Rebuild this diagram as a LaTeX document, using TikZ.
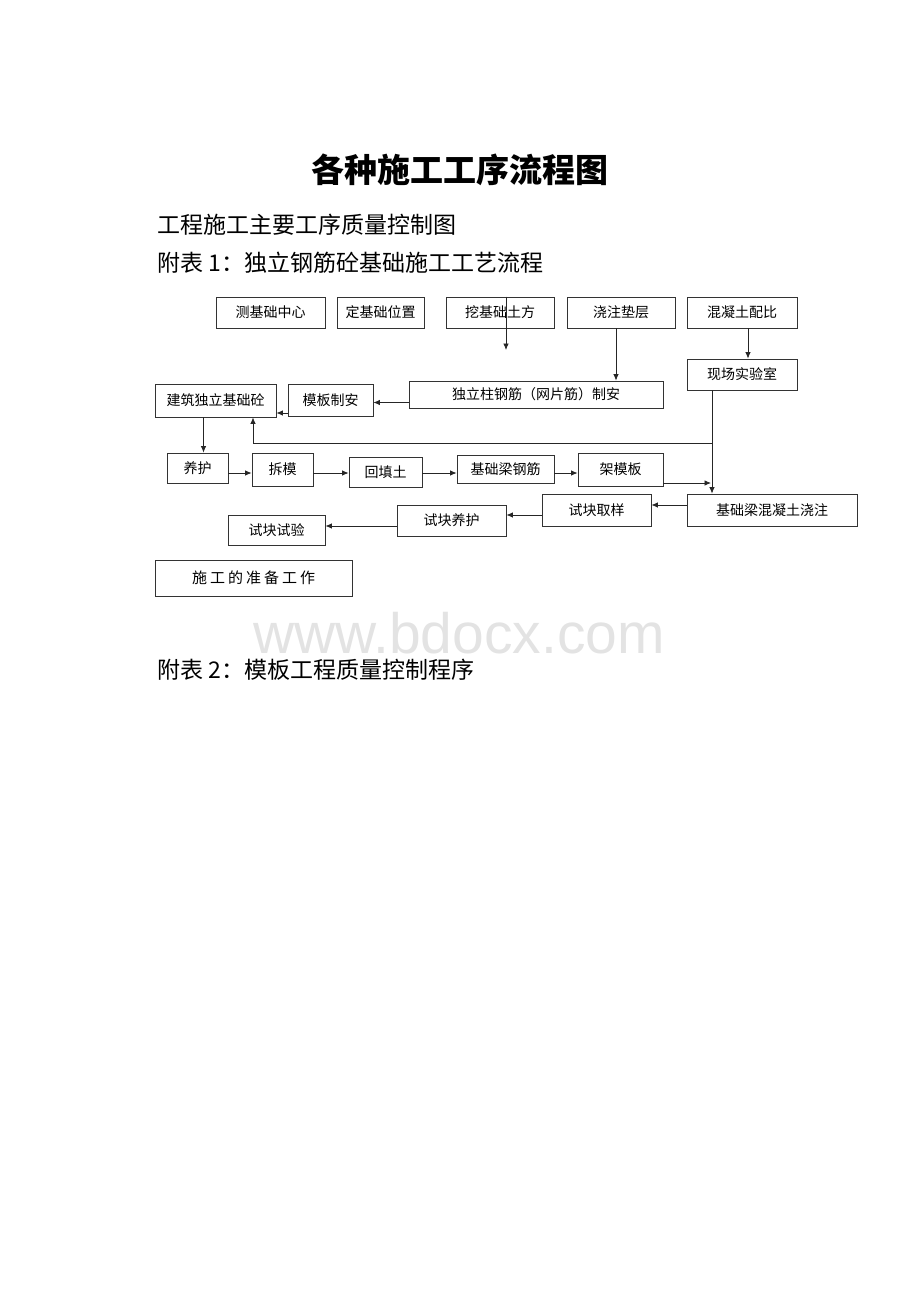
\documentclass[tikz,border=0pt]{standalone}
\usepackage{fontspec}
\setmainfont{Liberation Serif}
\newfontfamily\cjk{Noto Sans CJK SC}
\newfontfamily\wmfont{Liberation Sans}
\usetikzlibrary{arrows.meta}

\tikzset{
  box/.style={draw=black!80, line width=0.8pt, inner sep=0pt, font=\cjk\fontsize{14}{14}\selectfont},
  flow/.style={-{Latex[length=6.5pt,width=5.5pt]}, line width=0.8pt, draw=black!85},
  heading/.style={anchor=west, inner sep=0pt, font=\cjk\fontsize{23}{23}\selectfont},
}

\begin{document}
\begin{tikzpicture}[x=1pt,y=-1pt]
    \useasboundingbox (0,0) rectangle (920,1302);
    % page headings
    \node[font=\cjk\bfseries\fontsize{33}{33}\selectfont] (title) at (460,170) {各种施工工序流程图};
    \node[heading] (sub) at (157,225) {工程施工主要工序质量控制图};
    \node[heading] (tab1) at (157,263) {附表 1：独立钢筋砼基础施工工艺流程};
    \node[anchor=base, inner sep=0pt, text=black!11, font=\wmfont\fontsize{57}{57}\selectfont] (mark) at (459,653) {www.bdocx.com};
    \node[heading] (tab2) at (157,670) {附表 2：模板工程质量控制程序};

    % top row
    \node[box, minimum width=109pt, minimum height=31pt] (centre) at (270.5,312.5) {测基础中心};
    \node[box, minimum width=87pt, minimum height=31pt] (locate) at (380.5,312.5) {定基础位置};
    \node[box, minimum width=108pt, minimum height=31pt] (dig) at (500,312.5) {挖基础土方};
    \node[box, minimum width=108pt, minimum height=31pt] (bed) at (621,312.5) {浇注垫层};
    \node[box, minimum width=110pt, minimum height=31pt] (mix) at (742,312.5) {混凝土配比};

    % second row
    \node[box, minimum width=110pt, minimum height=31pt] (lab) at (742,374.5) {现场实验室};
    \node[box, minimum width=254pt, minimum height=27pt] (rebar) at (536,394.5) {独立柱钢筋（网片筋）制安};
    \node[box, minimum width=85pt, minimum height=32pt] (form) at (330.5,400) {模板制安};
    \node[box, minimum width=121pt, minimum height=33pt] (found) at (215.5,400.5) {建筑独立基础砼};

    % third row
    \node[box, minimum width=61pt, minimum height=30pt] (cure) at (197.5,468) {养护};
    \node[box, minimum width=61pt, minimum height=33pt] (strip) at (282.5,469.5) {拆模};
    \node[box, minimum width=73pt, minimum height=30pt] (fill) at (385.5,472) {回填土};
    \node[box, minimum width=97pt, minimum height=28pt] (beambar) at (505.5,469) {基础梁钢筋};
    \node[box, minimum width=85pt, minimum height=33pt] (beamform) at (620.5,469.5) {架模板};

    % bottom rows
    \node[box, minimum width=170pt, minimum height=32pt] (pour) at (772,510) {基础梁混凝土浇注};
    \node[box, minimum width=109pt, minimum height=32pt] (sample) at (596.5,510) {试块取样};
    \node[box, minimum width=109pt, minimum height=31pt] (cubecure) at (451.5,520.5) {试块养护};
    \node[box, minimum width=97pt, minimum height=30pt] (cubetest) at (276.5,530) {试块试验};
    \node[box, minimum width=197pt, minimum height=36pt, font=\cjk\fontsize{15}{15}\selectfont\addfontfeatures{LetterSpace=20}] (prep) at (253.5,578) {施工的准备工作};

    % connectors
    \coordinate (digend) at (506,350);
    \coordinate (labdrop) at (712,443);
    \coordinate (backup) at (253,443);
    \coordinate (merge) at (711,483);
    \draw[flow] (dig.north -| digend) -- (digend);
    \draw[flow] ([xshift=-5pt]bed.south) -- ([xshift=-5pt]bed.south |- rebar.north);
    \draw[flow] ([xshift=6pt]mix.south) -- ([xshift=6pt]lab.north);
    \draw[flow] ([yshift=-8pt]rebar.west) -- ([yshift=-8pt]rebar.west -| form.east);
    \draw[flow] ([yshift=-13pt]form.west) -- ([yshift=-13pt]form.west -| found.east);
    \draw[flow] ([xshift=-12pt]found.south) -- ([xshift=-12pt]found.south |- cure.north);
    \draw[flow] (lab.south -| labdrop) -- (pour.north -| labdrop);
    \draw[flow] (labdrop) -- (backup) -- (found.south -| backup);
    \draw[flow] (cure.east |- 0,473) -- (strip.west |- 0,473);
    \draw[flow] (strip.east |- 0,473) -- (fill.west |- 0,473);
    \draw[flow] (fill.east |- 0,473) -- (beambar.west |- 0,473);
    \draw[flow] (beambar.east |- 0,473) -- (beamform.west |- 0,473);
    \draw[flow] (beamform.east |- merge) -- (merge);
    \draw[flow] ([yshift=5pt]pour.west) -- ([yshift=5pt]pour.west -| sample.east);
    \draw[flow] ([yshift=-5pt]sample.west) -- ([yshift=-5pt]sample.west -| cubecure.east);
    \draw[flow] ([yshift=-5.5pt]cubecure.west) -- ([yshift=-5.5pt]cubecure.west -| cubetest.east);
\end{tikzpicture}
\end{document}
